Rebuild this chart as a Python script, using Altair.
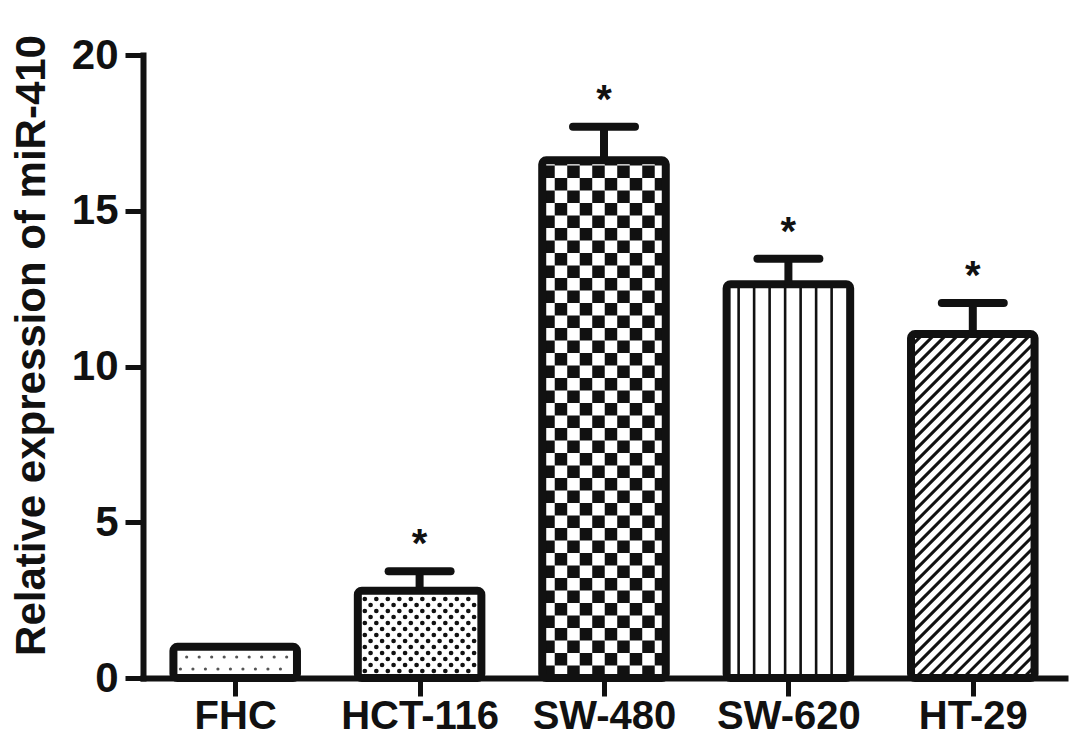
import json
import numpy as np
import pandas as pd
import altair as alt

# ---- data ----
categories = ["FHC", "HCT-116", "SW-480", "SW-620", "HT-29"]
values = [1.0, 2.8, 16.62, 12.64, 11.04]
errors = [0.0, 0.63, 1.08, 0.82, 1.0]
stars = ["", "*", "*", "*", "*"]
patterns = ["sparse_dots", "dense_dots", "checker", "vlines", "diag"]
y_ticks = [0, 5, 10, 15, 20]

# ---- geometry helpers (plot area in px) ----
W, H = 922, 623
XMAX, YMAX = 5, 20
PX = W / XMAX   # px per x unit
PY = H / YMAX   # px per y unit
HW = 0.335      # bar half width (x units)
CAP = 0.168     # error cap half width

bars = pd.DataFrame({
    "cat": categories,
    "xc": [i + 0.5 for i in range(len(categories))],
    "value": values,
    "err": errors,
    "star": stars,
})
bars["x0"] = bars["xc"] - HW
bars["x1"] = bars["xc"] + HW
bars["top"] = bars["value"] + bars["err"]
bars["c0"] = bars["xc"] - CAP
bars["c1"] = bars["xc"] + CAP
eb = bars[bars["err"] > 0]

# pattern pieces, built from the bar extents
dots, cells, lines = [], [], []
for i, row in bars.iterrows():
    x0p, x1p = row.x0 * PX, row.x1 * PX
    hp = row.value * PY
    kind = patterns[i]
    if kind in ("sparse_dots", "dense_dots"):
        sx, sy, d0 = (12.5, 12.0, 9.0) if kind == "sparse_dots" else (11.5, 6.0, 7.0)
        r = 0
        y = d0
        while y < hp - 4:
            off = 0 if r % 2 == 0 else sx / 2
            x = x0p + 7 + off
            while x < x1p - 5:
                dots.append({"kind": kind, "x": x / PX, "y": y / PY})
                x += sx
            y += sy
            r += 1
    elif kind == "checker":
        s = 12.5
        j = 0
        y = 0.0
        while y < hp:
            k = 0
            x = x0p
            while x < x1p:
                if (j + k) % 2 == 0:
                    cells.append({"x": x / PX, "x2": min(x + s, x1p) / PX,
                                  "y": y / PY, "y2": min(y + s, hp) / PY})
                x += s
                k += 1
            y += s
            j += 1
    elif kind == "vlines":
        s = 15.5
        x = x0p + 12
        while x < x1p - 4:
            lines.append({"kind": "v", "x": x / PX, "x2": x / PX, "y": 0, "y2": row.value})
            x += s
    elif kind == "diag":
        s = 12.0
        c = x0p - hp
        while c < x1p:
            xa = max(x0p, c)
            xb = min(x1p, c + hp)
            if xb > xa:
                lines.append({"kind": "d", "x": xa / PX, "x2": xb / PX,
                              "y": (xa - c) / PY, "y2": (xb - c) / PY})
            c += s

dots = pd.DataFrame(dots)
cells = pd.DataFrame(cells)
lines = pd.DataFrame(lines)

FONT = "Liberation Sans"
xs = alt.Scale(domain=[0, XMAX], nice=False, zero=False)
ys = alt.Scale(domain=[0, YMAX], nice=False)

label_expr = "%s[floor(datum.value)]" % json.dumps(categories)

x_axis = alt.Axis(values=[i + 0.5 for i in range(len(categories))], labelExpr=label_expr,
                  grid=False, domainWidth=6, domainColor="#111", tickWidth=5, tickColor="#111",
                  tickSize=18, labelFontSize=40, labelFont=FONT, labelFontWeight="bold",
                  labelColor="#111", labelPadding=0, labelOverlap=False, labelFlush=False,
                  title=None, domainCap="square")
y_axis = alt.Axis(values=y_ticks, grid=False, domainWidth=6, domainColor="#111", tickWidth=5,
                  tickColor="#111", tickSize=18, labelFontSize=42, labelFont=FONT,
                  labelFontWeight="bold", labelColor="#111", labelPadding=7, labelOverlap=False,
                  labelFlush=False, title="Relative expression of miR-410", titleFontSize=42,
                  titleFont=FONT, titleFontWeight="bold", titleColor="#111", titleX=-112,
                  titleY=290, titleAngle=-90, titleAlign="center", titleBaseline="middle",
                  domainCap="square")


def X(field):
    return alt.X(field, scale=xs, axis=x_axis)


def Y(field):
    return alt.Y(field, scale=ys, axis=y_axis)


base_bars = alt.Chart(bars)

fill_layer = base_bars.mark_rect(fill="white", stroke=None).encode(
    x=X("x0:Q"), x2="x1:Q", y=Y("value:Q"), y2=alt.datum(0))

dot_layer = alt.Chart(dots).mark_point(filled=True, shape="circle", opacity=1).encode(
    x=X("x:Q"), y=Y("y:Q"),
    size=alt.Size("kind:N", scale=alt.Scale(domain=["sparse_dots", "dense_dots"], range=[10, 22]), legend=None),
    color=alt.Color("kind:N", scale=alt.Scale(domain=["sparse_dots", "dense_dots"], range=["#555", "#111"]), legend=None))

cell_layer = alt.Chart(cells).mark_rect(color="#111").encode(
    x=X("x:Q"), x2="x2:Q", y=Y("y:Q"), y2="y2:Q")

line_layer = alt.Chart(lines).mark_rule(color="#111").encode(
    x=X("x:Q"), x2="x2:Q", y=Y("y:Q"), y2="y2:Q",
    strokeWidth=alt.StrokeWidth("kind:N", scale=alt.Scale(domain=["v", "d"], range=[2.6, 3.0]), legend=None))

outline_layer = base_bars.mark_rect(fill=None, stroke="#111", strokeWidth=8, cornerRadius=4,
                                    strokeJoin="round").encode(
    x=X("x0:Q"), x2="x1:Q", y=Y("value:Q"), y2=alt.datum(0))

err_v = alt.Chart(eb).mark_rule(color="#111", strokeWidth=8).encode(
    x=X("xc:Q"), y=Y("value:Q"), y2="top:Q")

err_cap = alt.Chart(eb).mark_rule(color="#111", strokeWidth=8, strokeCap="round").encode(
    x=X("c0:Q"), x2="c1:Q", y=Y("top:Q"))

star_layer = alt.Chart(eb).mark_text(font=FONT, fontSize=40, fontWeight="bold", color="#111",
                                     baseline="middle", dy=-26).encode(
    x=X("xc:Q"), y=Y("top:Q"), text="star:N")

chart = alt.layer(fill_layer, dot_layer, cell_layer, line_layer, outline_layer,
                  err_v, err_cap, star_layer).properties(
    width=W, height=H,
    autosize=alt.AutoSizeParams(type="none"),
    padding={"left": 135, "top": 47, "right": 14, "bottom": 66},
    background="white",
).configure_view(stroke=None)

chart.save("out.html", embed_options={"renderer": "svg", "actions": False})
